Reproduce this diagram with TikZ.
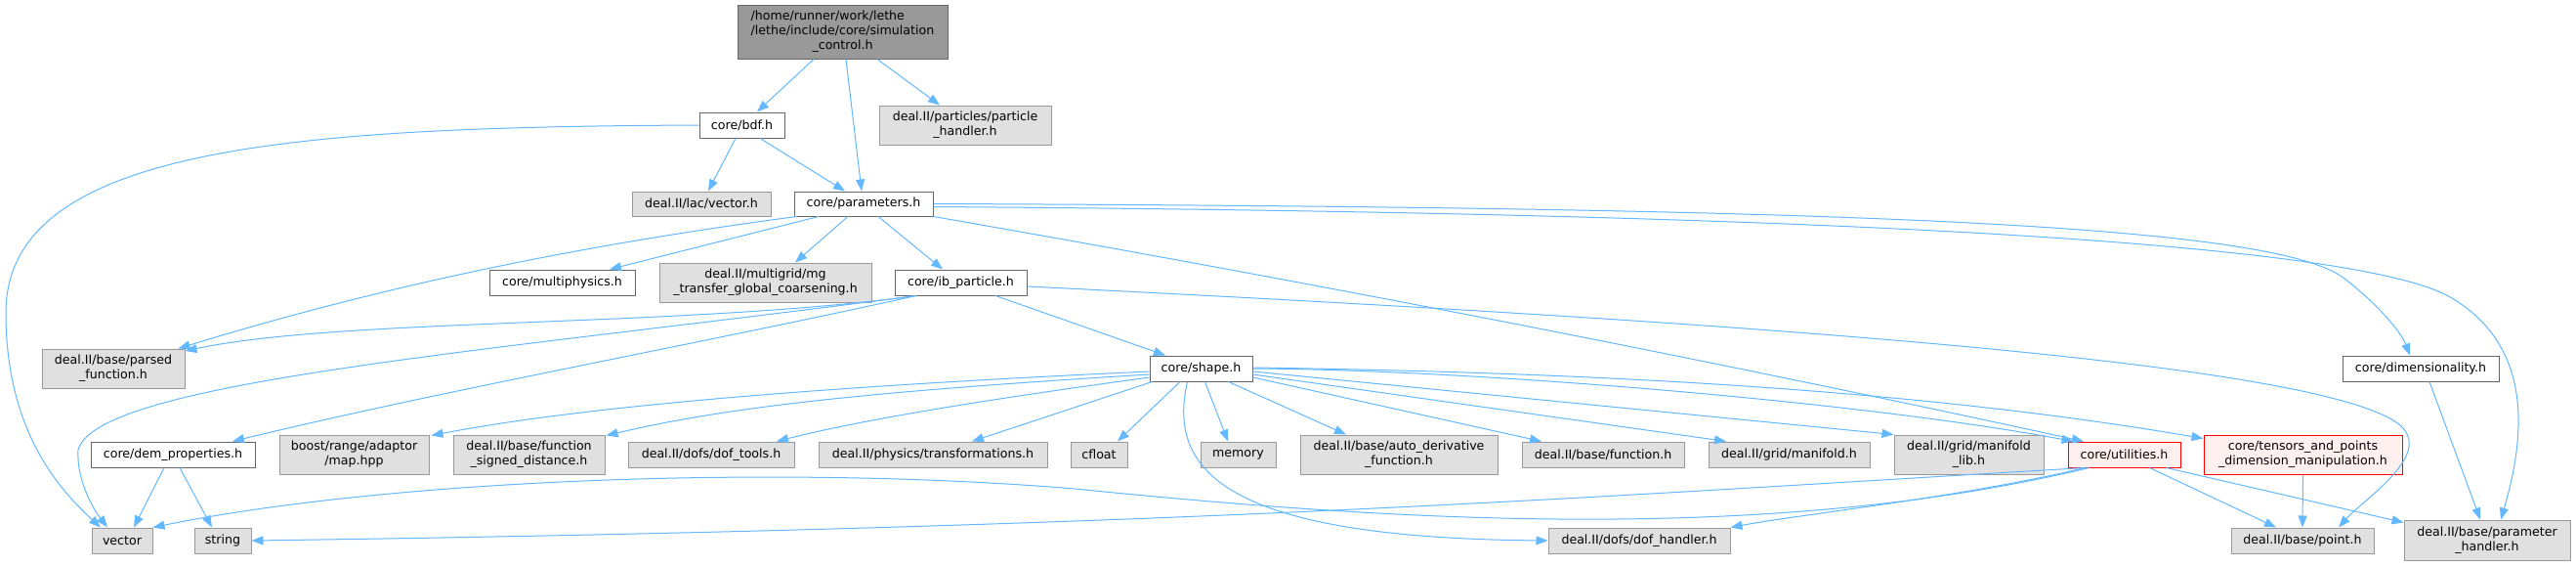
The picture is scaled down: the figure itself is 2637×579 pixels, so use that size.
\documentclass[tikz,border=0pt]{standalone}
\usepackage{fontspec}
\setmainfont{DejaVu Sans}
\usetikzlibrary{arrows.meta}
\definecolor{edgeblue}{HTML}{63B8FF}
\definecolor{graybg}{HTML}{E0E0E0}
\definecolor{grayline}{HTML}{999999}
\definecolor{darkline}{HTML}{666666}
\definecolor{rootbg}{HTML}{999999}
\definecolor{redbg}{HTML}{FFF0F0}
\definecolor{redline}{HTML}{FF0000}
\tikzset{
  basebox/.style={draw, inner sep=0pt, align=center, line width=1pt},
  wbox/.style={basebox, fill=white, draw=darkline},
  gbox/.style={basebox, fill=graybg, draw=grayline},
  rbox/.style={basebox, fill=redbg, draw=redline},
  rootbox/.style={basebox, fill=rootbg, draw=darkline},
  dep/.style={draw=edgeblue, line width=1pt, -{Triangle[length=12pt,width=9pt]}},
}
\begin{document}
\begin{tikzpicture}[x=1pt,y=-1pt,font=\fontsize{12.6}{15}\selectfont]
\useasboundingbox[fill=white] (0,0) rectangle (2637,579);
% nodes
\node[rootbox,minimum width=215,minimum height=55] (root) at (862.5,32.5) {\rlap{/home/runner/work/lethe}\phantom{/lethe/include/core/simulation}\\/lethe/include/core/simulation\\\_control.h};
\node[wbox,minimum width=87,minimum height=26] (bdf) at (759.5,128) {core/bdf.h};
\node[gbox,minimum width=176,minimum height=40] (ph) at (988,128) {deal.II/particles/particle\\\_handler.h};
\node[gbox,minimum width=142,minimum height=25] (lacvec) at (718,208.5) {deal.II/lac/vector.h};
\node[wbox,minimum width=142,minimum height=25] (params) at (884,208.5) {core/parameters.h};
\node[wbox,minimum width=149,minimum height=26] (multiphys) at (575.5,289) {core/multiphysics.h};
\node[gbox,minimum width=217,minimum height=40] (multigrid) at (783.5,289) {deal.II/multigrid/mg\\\_transfer\_global\_coarsening.h};
\node[wbox,minimum width=135,minimum height=26] (ib) at (983.5,289) {core/ib\_particle.h};
\node[gbox,minimum width=146,minimum height=40] (parsed) at (116,377) {deal.II/base/parsed\\\_function.h};
\node[wbox,minimum width=105,minimum height=26] (shape) at (1229.5,377) {core/shape.h};
\node[wbox,minimum width=160,minimum height=26] (dim) at (2478,377) {core/dimensionality.h};
\node[wbox,minimum width=168,minimum height=26] (dem) at (177,465) {core/dem\_properties.h};
\node[gbox,minimum width=153,minimum height=40] (boost) at (362.5,465) {boost/range/adaptor\\/map.hpp};
\node[gbox,minimum width=155,minimum height=40] (fsd) at (541.5,465) {deal.II/base/function\\\_signed\_distance.h};
\node[gbox,minimum width=170,minimum height=26] (doftools) at (728,465) {deal.II/dofs/dof\_tools.h};
\node[gbox,minimum width=234,minimum height=26] (transf) at (955,465) {deal.II/physics/transformations.h};
\node[gbox,minimum width=58,minimum height=26] (cfloat) at (1125,465) {cfloat};
\node[gbox,minimum width=77,minimum height=26] (memory) at (1267.5,465) {memory};
\node[gbox,minimum width=202,minimum height=40] (autod) at (1432,465) {deal.II/base/auto\_derivative\\\_function.h};
\node[gbox,minimum width=166,minimum height=26] (func) at (1641,465) {deal.II/base/function.h};
\node[gbox,minimum width=165,minimum height=26] (manifold) at (1831.5,465) {deal.II/grid/manifold.h};
\node[gbox,minimum width=153,minimum height=40] (mlib) at (2015.5,465) {deal.II/grid/manifold\\\_lib.h};
\node[rbox,minimum width=115,minimum height=26] (util) at (2174.5,465) {core/utilities.h};
\node[rbox,minimum width=203,minimum height=40] (tensors) at (2357.5,465) {core/tensors\_and\_points\\\_dimension\_manipulation.h};
\node[gbox,minimum width=62,minimum height=26] (vector) at (125,553) {vector};
\node[gbox,minimum width=58,minimum height=26] (string) at (228,553) {string};
\node[gbox,minimum width=186,minimum height=26] (dofh) at (1678,553) {deal.II/dofs/dof\_handler.h};
\node[gbox,minimum width=146,minimum height=26] (point) at (2357,553) {deal.II/base/point.h};
\node[gbox,minimum width=170,minimum height=41] (parh) at (2546,552.5) {deal.II/base/parameter\\\_handler.h};
% edges from root
\draw[dep] ([xshift=-29.5pt]root.south) -- ([xshift=15.5pt]bdf.north);
\draw[dep] ([xshift=3.5pt]root.south) -- ([xshift=-2pt]params.north);
\draw[dep] ([xshift=35.5pt]root.south) -- ([xshift=-26pt]ph.north);
% bdf
\draw[dep] ([xshift=-6.5pt]bdf.south) -- ([xshift=7pt]lacvec.north);
\draw[dep] ([xshift=18.5pt]bdf.south) -- ([xshift=-19pt]params.north);
\draw[dep] (bdf.west) .. controls (300,130) and (6,150) .. (6,320) .. controls (6,440) and (60,500) .. ([xshift=-22pt]vector.north);
% parameters
\draw[dep] ([xshift=3pt]params.south west) .. controls (600,250) and (400,290) .. ([xshift=-7pt]parsed.north east);
\draw[dep] ([xshift=-46pt]params.south) -- ([xshift=48.5pt]multiphys.north);
\draw[dep] ([xshift=-16pt]params.south) -- ([xshift=30.5pt]multigrid.north);
\draw[dep] ([xshift=15pt]params.south) -- ([xshift=-18.5pt]ib.north);
\draw[dep] (params.south east) .. controls (1350,290) and (1750,368) .. ([xshift=-41.5pt]util.north);
\draw[dep] (params.east) .. controls (1900,212) and (2330,230) .. (2400,285) .. controls (2435,312) and (2458,340) .. ([xshift=-11pt]dim.north);
\draw[dep] ([yshift=-3pt]params.east) .. controls (1900,218) and (2420,250) .. (2510,305) .. controls (2585,350) and (2590,430) .. ([xshift=14pt]parh.north);
% ib_particle
\draw[dep] ([xshift=-45.5pt]ib.south) .. controls (700,335) and (350,325) .. ([yshift=18pt]parsed.east);
\draw[dep] ([xshift=-45.5pt]ib.south) .. controls (500,360) and (100,390) .. (80,460) .. controls (78,490) and (95,520) .. ([xshift=-15pt]vector.north);
\draw[dep] ([xshift=-45.5pt]ib.south) .. controls (700,355) and (450,400) .. ([xshift=61pt]dem.north);
\draw[dep] ([xshift=35.5pt]ib.south) -- ([xshift=-36.5pt]shape.north);
\draw[dep] ([yshift=-4pt]ib.east) .. controls (1800,330) and (2350,370) .. (2450,430) .. controls (2500,460) and (2420,510) .. ([xshift=37pt]point.north);
% shape
\draw[dep] ([yshift=-3pt]shape.west) .. controls (850,395) and (600,415) .. ([xshift=2pt,yshift=-1pt]boost.north east);
\draw[dep] ([yshift=-6pt]shape.west) .. controls (900,400) and (750,415) .. ([xshift=1pt,yshift=-1pt]fsd.north east);
\draw[dep] ([yshift=-9pt]shape.west) .. controls (1000,410) and (880,430) .. ([xshift=67pt]doftools.north);
\draw[dep] ([xshift=3pt]shape.south west) -- ([xshift=40pt]transf.north);
\draw[dep] ([xshift=-21.5pt]shape.south) -- ([xshift=19pt]cfloat.north);
\draw[dep] ([xshift=4pt]shape.south) -- ([xshift=-10.5pt]memory.north);
\draw[dep] ([xshift=28pt]shape.south) -- ([xshift=-54pt]autod.north);
\draw[dep] ([yshift=-9pt]shape.east) -- ([xshift=-63pt]func.north);
\draw[dep] ([yshift=-6pt]shape.east) -- ([xshift=-64.5pt]manifold.north);
\draw[dep] ([yshift=-3pt]shape.east) -- (mlib.north west);
\draw[dep] (shape.east) .. controls (1500,378) and (1900,410) .. ([xshift=-52pt]util.north);
\draw[dep] ([yshift=1pt]shape.east) .. controls (1700,382) and (2000,405) .. ([yshift=-4pt]tensors.north west);
\draw[dep] ([xshift=-14pt]shape.south) .. controls (1195,480) and (1250,550) .. (dofh.west);
% dem_properties
\draw[dep] ([xshift=-9pt]dem.south) -- ([xshift=12pt]vector.north);
\draw[dep] ([xshift=7pt]dem.south) -- ([xshift=-11pt]string.north);
% utilities
\draw[dep] ([xshift=-36pt]util.south) .. controls (1800,560) and (1400,530) .. (1100,500) .. controls (800,475) and (400,490) .. (vector.north east);
\draw[dep] ([xshift=-40pt]util.south) .. controls (1600,510) and (1200,540) .. (string.east);
\draw[dep] ([xshift=-40pt]util.south) .. controls (2000,510) and (1850,525) .. (dofh.north east);
\draw[dep] ([xshift=26pt]util.south) -- ([xshift=-27pt]point.north);
\draw[dep] ([xshift=43pt]util.south) -- ([yshift=-3pt]parh.north west);
% tensors, dimensionality
\draw[dep] (tensors.south) -- (point.north);
\draw[dep] ([xshift=9pt]dim.south) -- ([xshift=-7pt]parh.north);
\end{tikzpicture}
\end{document}
